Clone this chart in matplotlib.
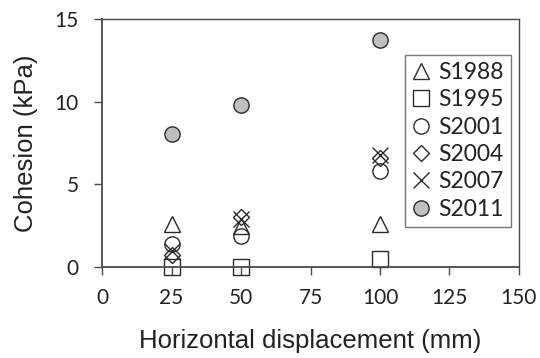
import matplotlib.pyplot as plt

# horizontal displacement (mm)
disp = [25, 50, 100]

# cohesion (kPa) per survey
s1988 = [2.6, 2.5, 2.6]
s1995 = [0.0, 0.0, 0.5]
s2001 = [1.4, 1.9, 5.8]
s2004 = [0.7, 3.0, 6.6]
s2007 = [1.0, 2.9, 6.8]
s2011 = [8.05, 9.8, 13.7]

names = ["S1988", "S1995", "S2001", "S2004", "S2007", "S2011"]
series = [s1988, s1995, s2001, s2004, s2007, s2011]
markers = ["^", "s", "o", "D", "x", "o"]
sizes = [11, 11, 11, 8, 11, 11]
faces = ["none", "none", "none", "none", "none", "#bfbfc1"]

edge = "#2b2b2b"

fig = plt.figure(figsize=(5.4, 3.58), dpi=100)
ax = fig.add_axes([0.189, 0.254, 0.772, 0.693])

for name, vals, m, ms, fc in zip(names, series, markers, sizes, faces):
    ax.plot(disp, vals, linestyle="none", marker=m, markersize=ms,
            markerfacecolor=fc, markeredgecolor=edge, markeredgewidth=1.0,
            label=name, clip_on=False)

ax.set_xlim(0, 150)
ax.set_ylim(0, 15)
ax.set_xticks(range(0, 151, 25))
ax.set_yticks(range(0, 16, 5))

for sp in ax.spines.values():
    sp.set_color("#4a4a4a")
    sp.set_linewidth(1.3)
ax.spines["top"].set_linewidth(1.0)
ax.spines["right"].set_linewidth(1.0)

ax.tick_params(direction="out", length=6, width=1.0, color="#4a4a4a",
               labelsize=15, labelcolor="#222222")
ax.tick_params(axis="y", pad=11)
ax.tick_params(axis="x", pad=9)
for lab in ax.get_xticklabels() + ax.get_yticklabels():
    lab.set_family("Lato")

ax.set_xlabel("Horizontal displacement (mm)", family="Liberation Sans",
              fontsize=18.5, color="#222222", labelpad=15)
ax.set_ylabel("Cohesion (kPa)", family="Liberation Sans",
              fontsize=18.5, color="#222222", labelpad=12)

leg = ax.legend(loc="upper right", bbox_to_anchor=(0.98, 0.855),
                prop={"family": "Lato", "size": 16.5}, frameon=True,
                fancybox=False, edgecolor="#555555", handlelength=0.8,
                handletextpad=0.35, borderpad=0.3, labelspacing=0.28,
                borderaxespad=0)
leg.get_frame().set_linewidth(1.0)
for t in leg.get_texts():
    t.set_color("#222222")

fig.savefig("out.png", dpi=100)
